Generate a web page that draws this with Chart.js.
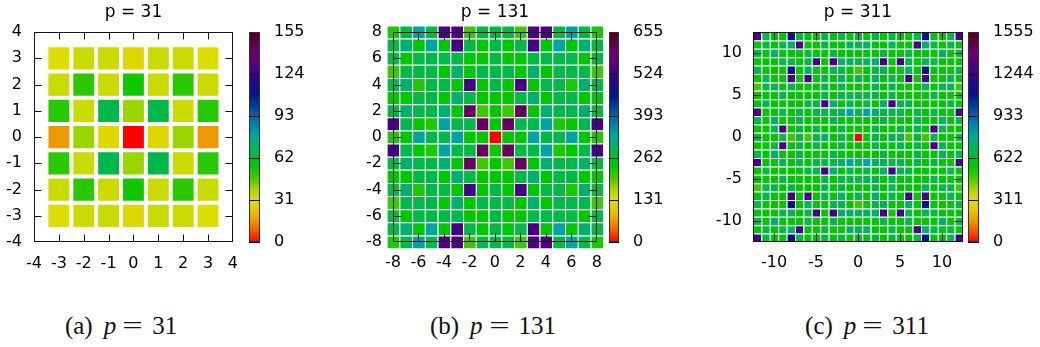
<!DOCTYPE html>
<html>
<head>
<meta charset="utf-8">
<script src="https://cdn.jsdelivr.net/npm/chart.js@4.4.1/dist/chart.umd.min.js"></script>
<style>
  html, body { margin: 0; padding: 0; background: #fff; }
  body { position: relative; width: 1040px; height: 347px; overflow: hidden; }
  canvas { position: absolute; top: 0; }
  .cap { position: absolute; top: 313px; line-height: 25px; font-family: 'Liberation Serif', 'DejaVu Serif', serif;
         font-size: 25px; color: #111; white-space: nowrap; transform: translateX(-50%); }
  .cap i { margin-left: 11px; margin-right: 6px; }
  .cap .eq { display: inline-block; width: 21px; text-align: center; transform: scaleX(1.45); margin-right: 9px; }
</style>
</head>
<body>
<canvas id="ha"></canvas><canvas id="ca"></canvas>
<canvas id="hb"></canvas><canvas id="cb"></canvas>
<canvas id="hc"></canvas><canvas id="cc"></canvas>
<div class="cap" style="left:121px">(a)<i>p</i><span class="eq">=</span>31</div>
<div class="cap" style="left:493px">(b)<i>p</i><span class="eq">=</span>131</div>
<div class="cap" style="left:867px">(c)<i>p</i><span class="eq">=</span>311</div>

<script>
// ---- p = 31 : 7 x 7 grid (rows listed from y = 3 down to y = -3) ----
const xs31 = [-3, -2, -1, 0, 1, 2, 3];
const ys31 = [3, 2, 1, 0, -1, -2, -3];
const grid31 = [
  [31, 34, 34, 29, 34, 34, 31],
  [34, 51, 34, 54, 34, 51, 34],
  [51, 34, 67, 40, 67, 34, 51],
  [16, 40, 29,  0, 29, 40, 16],
  [51, 34, 67, 40, 67, 34, 51],
  [34, 51, 34, 54, 34, 51, 34],
  [31, 34, 34, 29, 34, 34, 31]
];
const range31 = [-4, 4];
const ticks31 = [-4, -3, -2, -1, 0, 1, 2, 3, 4];
const cbTicks31 = [0, 31, 62, 93, 124, 155];

// ---- p = 131 : 17 x 17 grid (rows from y = 8 down to y = -8) ----
const xs131 = [-8, -7, -6, -5, -4, -3, -2, -1, 0, 1, 2, 3, 4, 5, 6, 7, 8];
const ys131 = [8, 7, 6, 5, 4, 3, 2, 1, 0, -1, -2, -3, -4, -5, -6, -7, -8];
const grid131 = [
  [222,282,335,282,548,548,205,282,282,282,205,548,548,282,335,282,222],
  [282,305,236,335,236,537,282,236,282,236,282,537,236,335,236,305,282],
  [282,236,282,282,282,282,236,236,282,236,236,282,282,282,282,236,282],
  [205,282,282,282,236,305,236,282,282,282,236,305,236,282,282,282,205],
  [282,305,222,282,282,236,537,236,282,236,537,236,282,282,222,305,282],
  [236,236,282,282,236,305,282,236,236,236,282,305,236,282,282,236,236],
  [282,305,282,282,305,236,600,205,236,205,600,236,305,282,282,305,282],
  [537,282,236,222,335,282,282,600,236,600,282,282,335,222,236,282,537],
  [222,236,335,282,282,335,236,236,  0,236,236,335,282,282,335,236,222],
  [537,282,236,222,335,282,282,600,236,600,282,282,335,222,236,282,537],
  [282,305,282,282,305,236,600,205,236,205,600,236,305,282,282,305,282],
  [236,236,282,282,236,305,282,236,236,236,282,305,236,282,282,236,236],
  [282,305,222,282,282,236,537,236,282,236,537,236,282,282,222,305,282],
  [205,282,282,282,236,305,236,282,282,282,236,305,236,282,282,282,205],
  [282,236,282,282,282,282,236,236,282,236,236,282,282,282,282,236,282],
  [282,305,236,335,236,537,282,236,282,236,282,537,236,335,236,305,282],
  [222,282,335,282,548,548,205,282,282,282,205,548,548,282,335,282,222]
];
const range131 = [-8, 8];
const ticks131 = [-8, -6, -4, -2, 0, 2, 4, 6, 8];
const cbTicks131 = [0, 131, 262, 393, 524, 655];

// ---- p = 311 : 25 x 25 grid (rows from y = 12 down to y = -12) ----
const xs311 = [-12,-11,-10,-9,-8,-7,-6,-5,-4,-3,-2,-1,0,1,2,3,4,5,6,7,8,9,10,11,12];
const ys311 = [12,11,10,9,8,7,6,5,4,3,2,1,0,-1,-2,-3,-4,-5,-6,-7,-8,-9,-10,-11,-12];
const grid311 = [
  [1285,670,560,560,1120,670,560,560,670,560,670,560,670,560,670,560,670,560,560,670,1120,560,560,670,1285],
  [560,670,560,670,715,1285,560,560,670,560,560,715,670,715,560,560,670,560,560,1285,715,670,560,670,560],
  [670,560,715,560,560,560,670,560,560,670,560,560,560,560,560,670,560,560,670,560,560,560,715,560,670],
  [560,560,560,670,670,560,670,1285,560,1285,715,715,670,715,715,1285,560,1285,670,560,670,670,560,560,560],
  [670,560,560,560,1120,560,715,560,560,670,670,560,482,560,670,670,560,560,715,560,1120,560,560,560,670],
  [560,670,560,560,1285,560,1285,560,670,560,715,560,670,560,715,560,670,560,1285,560,1285,560,560,670,560],
  [482,670,670,560,670,560,560,560,670,560,670,560,560,560,670,560,670,560,560,560,670,560,670,670,482],
  [560,560,560,670,560,560,560,560,670,560,670,670,670,670,670,560,670,560,560,560,560,670,560,560,560],
  [560,670,560,560,560,560,670,670,1285,715,560,670,560,670,560,715,1285,670,670,560,560,560,560,670,560],
  [1285,560,560,670,560,670,560,670,670,670,715,795,670,795,715,670,670,670,560,670,560,670,560,560,1285],
  [670,560,715,560,560,670,560,560,560,670,560,560,560,560,560,670,560,560,560,670,560,560,715,560,670],
  [560,560,670,1285,560,670,560,670,560,560,670,560,560,560,670,560,560,670,560,670,560,1285,670,560,560],
  [670,560,560,670,482,670,482,670,715,560,670,560,0,560,670,560,715,670,482,670,482,670,560,560,670],
  [560,560,670,1285,560,670,560,670,560,560,670,560,560,560,670,560,560,670,560,670,560,1285,670,560,560],
  [670,560,715,560,560,670,560,560,560,670,560,560,560,560,560,670,560,560,560,670,560,560,715,560,670],
  [1285,560,560,670,560,670,560,670,670,670,715,795,670,795,715,670,670,670,560,670,560,670,560,560,1285],
  [560,670,560,560,560,560,670,670,1285,715,560,670,560,670,560,715,1285,670,670,560,560,560,560,670,560],
  [560,560,560,670,560,560,560,560,670,560,670,670,670,670,670,560,670,560,560,560,560,670,560,560,560],
  [482,670,670,560,670,560,560,560,670,560,670,560,560,560,670,560,670,560,560,560,670,560,670,670,482],
  [560,670,560,560,1285,560,1285,560,670,560,715,560,670,560,715,560,670,560,1285,560,1285,560,560,670,560],
  [670,560,560,560,1120,560,715,560,560,670,670,560,482,560,670,670,560,560,715,560,1120,560,560,560,670],
  [560,560,560,670,670,560,670,1285,560,1285,715,715,670,715,715,1285,560,1285,670,560,670,670,560,560,560],
  [670,560,715,560,560,560,670,560,560,670,560,560,560,560,560,670,560,560,670,560,560,560,715,560,670],
  [560,670,560,670,715,1285,560,560,670,560,560,715,670,715,560,560,670,560,560,1285,715,670,560,670,560],
  [1285,670,560,560,1120,670,560,560,670,560,670,560,670,560,670,560,670,560,560,670,1120,560,560,670,1285]
];
const range311 = [-12.5, 12.5];
const ticks311 = [-10, -5, 0, 5, 10];
const cbTicks311 = [0, 311, 622, 933, 1244, 1555];

// colour palette: position along the colour bar (0..1) -> rgb
const PALETTE = [
  [0.00, [255, 0, 0]], [0.05, [250, 80, 0]], [0.10, [240, 150, 0]], [0.15, [230, 200, 0]],
  [0.20, [220, 222, 0]], [0.25, [170, 215, 0]], [0.30, [80, 200, 0]], [0.36, [0, 200, 0]],
  [0.43, [0, 185, 70]], [0.51, [0, 165, 160]], [0.60, [0, 100, 170]], [0.70, [0, 20, 140]],
  [0.80, [60, 0, 140]], [0.90, [110, 0, 110]], [1.00, [75, 0, 20]]
];
const rgb = c => `rgb(${c.map(Math.round).join(',')})`;
function colorAt(f) {
  f = Math.max(0, Math.min(1, f));
  for (let i = 1; i < PALETTE.length; i++) {
    const [f1, c1] = PALETTE[i];
    if (f <= f1) {
      const [f0, c0] = PALETTE[i - 1];
      const t = (f - f0) / (f1 - f0);
      return rgb(c0.map((v, k) => v + (c1[k] - v) * t));
    }
  }
  return rgb(PALETTE[PALETTE.length - 1][1]);
}

Chart.defaults.font.family = "'DejaVu Sans', sans-serif";
Chart.defaults.font.size = 16;
Chart.defaults.color = '#000';
Chart.defaults.animation = false;
Chart.defaults.plugins.legend.display = false;
Chart.defaults.plugins.tooltip.enabled = false;

// border box plus inward tick marks on all four sides
const framePlugin = {
  id: 'frame',
  afterDatasetsDraw(chart, args, o) {
    const { ctx, chartArea: a, scales: { x, y } } = chart;
    const L = Math.round(a.left) + 0.5, R = Math.round(a.right) - 0.5;
    const T = Math.round(a.top) + 0.5, B = Math.round(a.bottom) - 0.5;
    ctx.save();
    ctx.strokeStyle = o.color;
    ctx.lineWidth = 1;
    ctx.beginPath();
    x.ticks.forEach(t => {
      const px = Math.round(x.getPixelForValue(t.value)) + 0.5;
      if (px <= L + 1 || px >= R - 1) return;
      ctx.moveTo(px, B); ctx.lineTo(px, B - o.len);
      ctx.moveTo(px, T); ctx.lineTo(px, T + o.len);
    });
    y.ticks.forEach(t => {
      const py = Math.round(y.getPixelForValue(t.value)) + 0.5;
      if (py <= T + 1 || py >= B - 1) return;
      ctx.moveTo(L, py); ctx.lineTo(L + o.len, py);
      ctx.moveTo(R, py); ctx.lineTo(R - o.len, py);
    });
    ctx.stroke();
    ctx.strokeRect(L, T, R - L, B - T);
    ctx.restore();
  }
};

const boxPlugin = {
  id: 'box',
  afterDraw(chart, args, o) {
    const { ctx, chartArea: a } = chart;
    ctx.save();
    ctx.strokeStyle = o.color;
    ctx.lineWidth = 1;
    ctx.strokeRect(Math.round(a.left) + 0.5, Math.round(a.top) + 0.5,
                   Math.round(a.right - a.left) - 1, Math.round(a.bottom - a.top) - 1);
    ctx.restore();
  }
};

const fixedTicks = list => scale => { scale.ticks = list.map(v => ({ value: v })); };

const AXIS_W = 50;

function heatmap(id, title, grid, xs, ys, vmax, range, ticks, area, gap, tickLen, labelPad) {
  const points = [], colors = [];
  grid.forEach((row, r) => row.forEach((v, c) => {
    points.push({ x: xs[c], y: [ys[r] - 0.5, ys[r] + 0.5] });
    colors.push(colorAt(v / vmax));
  }));
  const cv = document.getElementById(id);
  cv.width = area.right - area.left + AXIS_W + 10;
  cv.height = 290;
  cv.style.left = (area.left - AXIS_W) + 'px';
  const axis = (afterFit) => ({
    type: 'linear', min: range[0], max: range[1], offset: false,
    afterBuildTicks: fixedTicks(ticks), afterFit,
    grid: { display: false, drawTicks: false, offset: false }, border: { display: false },
    ticks: { autoSkip: false, maxRotation: 0, padding: labelPad, callback: v => String(v) }
  });
  new Chart(cv, {
    type: 'bar',
    data: {
      datasets: [{
        data: points, backgroundColor: colors, borderColor: '#fff', borderWidth: gap,
        borderSkipped: false, barPercentage: 1, categoryPercentage: 1, inflateAmount: 0, clip: false
      }]
    },
    options: {
      responsive: false,
      layout: { padding: { left: 0, right: 10, top: 0, bottom: 0 } },
      plugins: {
        title: { display: true, text: title, fullSize: false, color: '#000',
                 font: { size: 17, weight: 'normal' }, padding: { top: 2, bottom: 9.6 } },
        frame: { color: '#111', len: tickLen }
      },
      scales: {
        x: axis(s => { s.height = 48; }),
        y: axis(s => { s.width = AXIS_W; })
      }
    },
    plugins: [framePlugin]
  });
}

function colorbar(id, vmax, ticks, area) {
  const cv = document.getElementById(id);
  cv.width = area.right - area.left + 65;
  cv.height = 290;
  cv.style.left = (area.left - 5) + 'px';
  new Chart(cv, {
    type: 'bar',
    data: {
      labels: [''],
      datasets: [{
        data: [[0, vmax]], barPercentage: 1, categoryPercentage: 1, borderWidth: 0, inflateAmount: 0,
        backgroundColor: (c) => {
          const ch = c.chart;
          if (!ch.chartArea) return 'transparent';
          const sy = ch.scales.y;
          const g = ch.ctx.createLinearGradient(0, sy.getPixelForValue(0), 0, sy.getPixelForValue(vmax));
          PALETTE.forEach(([f, col]) => g.addColorStop(f, rgb(col)));
          return g;
        }
      }]
    },
    options: {
      responsive: false,
      layout: { padding: { left: 5, right: 0, top: 32, bottom: 48 } },
      plugins: { box: { color: '#333' } },
      scales: {
        x: { display: false },
        y: {
          position: 'right', min: 0, max: vmax,
          afterBuildTicks: fixedTicks(ticks), afterFit: s => { s.width = 60; },
          grid: { color: '#000', drawTicks: false, z: 1 }, border: { display: false },
          ticks: { autoSkip: false, padding: 14, callback: v => String(v) }
        }
      }
    },
    plugins: [boxPlugin]
  });
}

heatmap('ha', 'p = 31', grid31, xs31, ys31, 155, range31, ticks31, { left: 34, right: 240 }, 2, 7, 12);
colorbar('ca', 155, cbTicks31, { left: 249, right: 260 });

heatmap('hb', 'p = 131', grid131, xs131, ys131, 655, range131, ticks131, { left: 393, right: 603 },
        { top: 1, left: 1, right: 0, bottom: 0 }, 8, 11);
colorbar('cb', 655, cbTicks131, { left: 609, right: 619 });

heatmap('hc', 'p = 311', grid311, xs311, ys311, 1555, range311, ticks311, { left: 753, right: 963 },
        { top: 1, left: 1, right: 0, bottom: 0 }, 8, 11);
colorbar('cc', 1555, cbTicks311, { left: 968, right: 979 });
</script>
</body>
</html>
